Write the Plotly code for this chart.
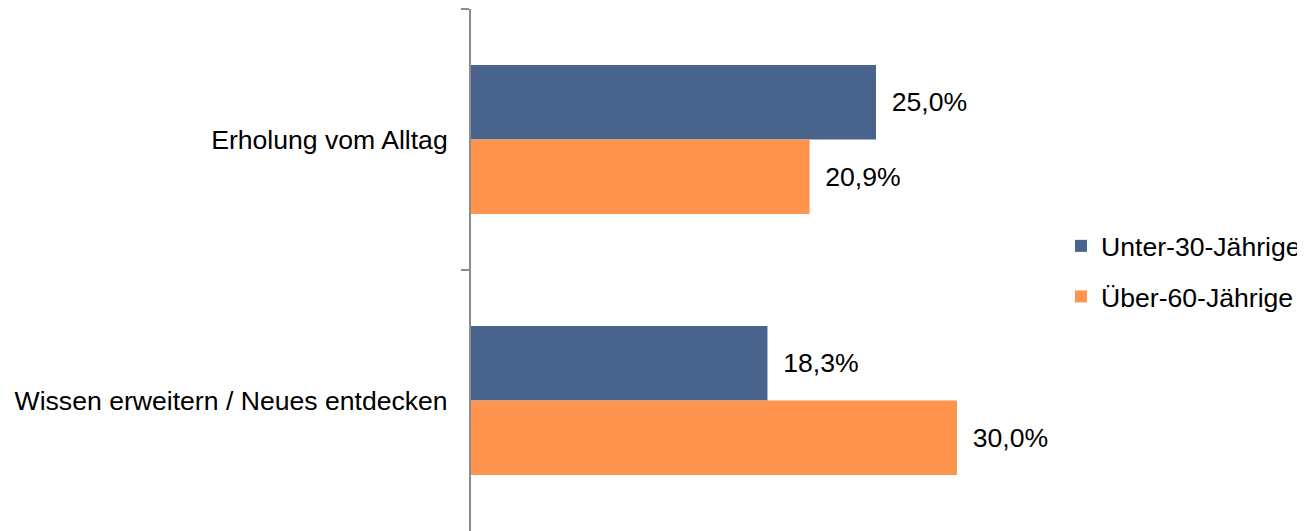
import plotly.graph_objects as go

categories = ["Erholung vom Alltag", "Wissen erweitern / Neues entdecken"]
series_names = ["Unter-30-Jährige", "Über-60-Jährige"]
values_u30 = [25.0, 18.3]
values_o60 = [20.9, 30.0]
colors = ["#48638C", "#FF944F"]

FONT = "Liberation Sans, Arial, sans-serif"
FS = 26.6

def fmt(v):
    return "\u00a0\u2009" + f"{v:.1f}".replace(".", ",") + "%"

fig = go.Figure()
for i, (name, vals) in enumerate(zip(series_names, [values_u30, values_o60])):
    fig.add_trace(go.Bar(
        y=categories, x=vals, name=name, orientation="h",
        marker=dict(color=colors[i], line=dict(width=0)),
        text=[fmt(v) for v in vals], textposition="outside",
        constraintext="none", cliponaxis=False,
        textfont=dict(family=FONT, size=FS, color="#000000"),
        legendgroup=f"g{i}",
    ))

# page body has an 8px margin; compensate
OFF = 8
W, H = 1305 - OFF, 531 - OFF
L = 471 - OFF
px_per_pct = 16.2
plot_w = W - L

fig.update_layout(
    width=W, height=H,
    margin=dict(l=L, r=0, t=9 - OFF, b=0, pad=0, autoexpand=False),
    paper_bgcolor="white", plot_bgcolor="white",
    barmode="group", bargap=0.43, bargroupgap=0,
    font=dict(family=FONT, size=FS, color="#000000"),
    xaxis=dict(visible=False, range=[0, plot_w / px_per_pct], fixedrange=True),
    yaxis=dict(
        autorange="reversed", showline=True, linecolor="#8c8c8c", linewidth=2,
        ticks="outside", ticklen=8, tickwidth=2, tickcolor="#8c8c8c",
        tickson="boundaries", showgrid=False, zeroline=False,
        ticklabelstandoff=16,
        tickfont=dict(family=FONT, size=FS, color="#000000"),
    ),
    legend=dict(
        x=(1061 - 471) / plot_w, xanchor="left", y=0.497, yanchor="middle",
        font=dict(family=FONT, size=FS, color="#000000"),
        traceorder="grouped", tracegroupgap=13,
        bgcolor="rgba(0,0,0,0)",
    ),
    showlegend=True,
)

fig.write_html("out.html")
